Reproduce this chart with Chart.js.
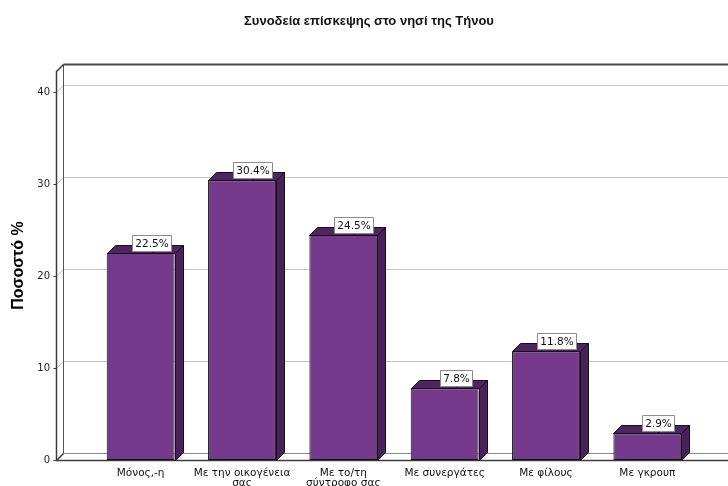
<!DOCTYPE html>
<html>
<head>
<meta charset="utf-8">
<script src="https://cdn.jsdelivr.net/npm/chart.js@4.4.0/dist/chart.umd.min.js"></script>
<style>
  html, body { margin: 0; padding: 0; background: #fff; overflow: hidden; }
  #wrap { width: 728px; height: 486px; }
</style>
</head>
<body>
<div id="wrap"><canvas id="chart" width="728" height="486"></canvas></div>
<script>
var chartTitle = "Συνοδεία επίσκεψης στο νησί της Τήνου";
var axisTitle = "Ποσοστό %";
var categories = [
  ["Μόνος,-η"],
  ["Με την οικογένεια", "σας"],
  ["Με το/τη", "σύντροφο σας"],
  ["Με συνεργάτες"],
  ["Με φίλους"],
  ["Με γκρουπ"]
];
var percents = [22.5, 30.4, 24.5, 7.8, 11.8, 2.9];
var yTicks = [0, 10, 20, 30, 40];

var frontColor = "#763a8c";
var sideColor = "#48205a";
var topColor = "#4f2461";

var DEPTH = 8;   // how far the bars recede
var WALL = 7;    // offset of the back wall

// back wall, floor and left wall of the box, then the bar sides and labels
var box3d = {
  id: "box3d",
  beforeDatasetsDraw: function(chart) {
    var ctx = chart.ctx, a = chart.chartArea, ys = chart.scales.y;
    var fx = a.left - 33.5, bx = fx + WALL, right = chart.width;
    ctx.save();
    ctx.lineWidth = 1;

    // grid lines on the back wall, running across the left wall too
    ctx.strokeStyle = "#c4c4c4";
    yTicks.forEach(function(v) {
      if (v === 0) return;
      var py = Math.round(ys.getPixelForValue(v)) + 0.5;
      ctx.beginPath();
      ctx.moveTo(fx, py);
      ctx.lineTo(bx, py - WALL);
      ctx.lineTo(right, py - WALL);
      ctx.stroke();
    });

    // floor
    var fy = Math.round(a.bottom) + 0.5;
    ctx.strokeStyle = "#8a8a8a";
    ctx.beginPath();
    ctx.moveTo(bx, fy - WALL);
    ctx.lineTo(right, fy - WALL);
    ctx.stroke();

    // left wall and top edge
    var ty = Math.round(a.top) + 0.5;
    ctx.strokeStyle = "#555";
    ctx.beginPath();
    ctx.moveTo(bx, fy - WALL);
    ctx.lineTo(bx, ty - WALL);
    ctx.stroke();
    ctx.lineWidth = 2;
    ctx.strokeStyle = "#4a4a4a";
    ctx.beginPath();
    ctx.moveTo(bx, ty - WALL);
    ctx.lineTo(right, ty - WALL);
    ctx.stroke();
    ctx.lineWidth = 1.5;
    ctx.strokeStyle = "#3c3c3c";
    ctx.beginPath();
    ctx.moveTo(right, fy);
    ctx.lineTo(fx, fy);
    ctx.lineTo(fx, ty);
    ctx.lineTo(bx, ty - WALL);
    ctx.moveTo(fx, fy);
    ctx.lineTo(bx, fy - WALL);
    ctx.stroke();

    // tick marks on the front edge
    ctx.lineWidth = 1;
    yTicks.forEach(function(v) {
      var py = Math.round(ys.getPixelForValue(v)) + 0.5;
      ctx.beginPath();
      ctx.moveTo(fx - 3, py);
      ctx.lineTo(fx, py);
      ctx.stroke();
    });
    ctx.restore();
  },

  afterDatasetsDraw: function(chart) {
    var ctx = chart.ctx;
    var meta = chart.getDatasetMeta(0);
    ctx.save();
    ctx.lineWidth = 1;
    ctx.lineJoin = "round";
    meta.data.forEach(function(bar, i) {
      var l = Math.round(bar.x - bar.width / 2) + 0.5;
      var r = Math.round(bar.x + bar.width / 2) + 0.5;
      var t = Math.round(bar.y) + 0.5;
      var b = Math.round(bar.base) + 0.5;
      ctx.strokeStyle = "#111";

      // side face
      ctx.fillStyle = sideColor;
      ctx.beginPath();
      ctx.moveTo(r, b);
      ctx.lineTo(r + DEPTH, b - DEPTH);
      ctx.lineTo(r + DEPTH, t - DEPTH);
      ctx.lineTo(r, t);
      ctx.closePath();
      ctx.fill();
      ctx.stroke();

      // top face
      ctx.fillStyle = topColor;
      ctx.beginPath();
      ctx.moveTo(l, t);
      ctx.lineTo(l + DEPTH, t - DEPTH);
      ctx.lineTo(r + DEPTH, t - DEPTH);
      ctx.lineTo(r, t);
      ctx.closePath();
      ctx.fill();
      ctx.stroke();

      // value label in a small box
      var text = percents[i].toFixed(1) + "%";
      ctx.font = "10.5px 'DejaVu Sans'";
      var w = Math.ceil(ctx.measureText(text).width) + 5;
      var h = 16;
      var cx = Math.round(bar.x + 11);
      var lx = cx - Math.round(w / 2) + 0.5;
      var ly = t - 2 - h;
      ctx.beginPath();
      ctx.moveTo(cx + 0.5, ly + h);
      ctx.lineTo(cx + 0.5, t);
      ctx.stroke();
      ctx.fillStyle = "#fff";
      ctx.fillRect(lx, ly, w, h);
      ctx.strokeStyle = "#8c8c8c";
      ctx.strokeRect(lx, ly, w, h);
      ctx.fillStyle = "#111";
      ctx.textAlign = "center";
      ctx.textBaseline = "middle";
      ctx.fillText(text, lx + w / 2, ly + h / 2 + 0.5);
    });
    ctx.restore();
  },

  afterDraw: function(chart) {
    var ctx = chart.ctx;
    ctx.save();
    ctx.font = "bold 13px 'Liberation Sans'";
    ctx.fillStyle = "#111";
    ctx.textAlign = "center";
    ctx.textBaseline = "middle";
    ctx.fillText(chartTitle, 369, 21);
    ctx.restore();
  }
};

new Chart(document.getElementById("chart"), {
  type: "bar",
  data: {
    labels: categories,
    datasets: [{
      data: percents,
      backgroundColor: frontColor,
      borderColor: "#111",
      borderWidth: 1,
      borderSkipped: false,
      categoryPercentage: 1,
      barPercentage: 0.67
    }]
  },
  options: {
    responsive: false,
    devicePixelRatio: 1,
    animation: false,
    layout: { padding: { top: 71, right: 30, left: 0, bottom: 0 } },
    plugins: {
      legend: { display: false },
      tooltip: { enabled: false }
    },
    scales: {
      x: {
        grid: { display: false, drawTicks: false },
        border: { display: false },
        ticks: {
          color: "#111",
          font: { family: "'DejaVu Sans'", size: 10.5, lineHeight: 1 },
          padding: 8,
          maxRotation: 0,
          autoSkip: false
        },
        afterFit: function(s) { s.height = 26; }
      },
      y: {
        min: 0,
        max: 42.3,
        // tick marks are hidden; their length only spaces the labels away from the box
        grid: { display: false, drawTicks: true, tickLength: 36 },
        border: { display: false },
        afterBuildTicks: function(s) {
          s.ticks = yTicks.map(function(v) { return { value: v }; });
        },
        ticks: {
          color: "#222",
          font: { family: "'DejaVu Sans'", size: 10 },
          padding: 4
        },
        title: {
          display: true,
          text: axisTitle,
          color: "#000",
          font: { family: "'Liberation Sans'", size: 16, weight: "bold" },
          padding: { top: 9, bottom: 0 }
        },
        afterFit: function(s) { s.width = 90; }
      }
    }
  },
  plugins: [box3d]
});
</script>
</body>
</html>
